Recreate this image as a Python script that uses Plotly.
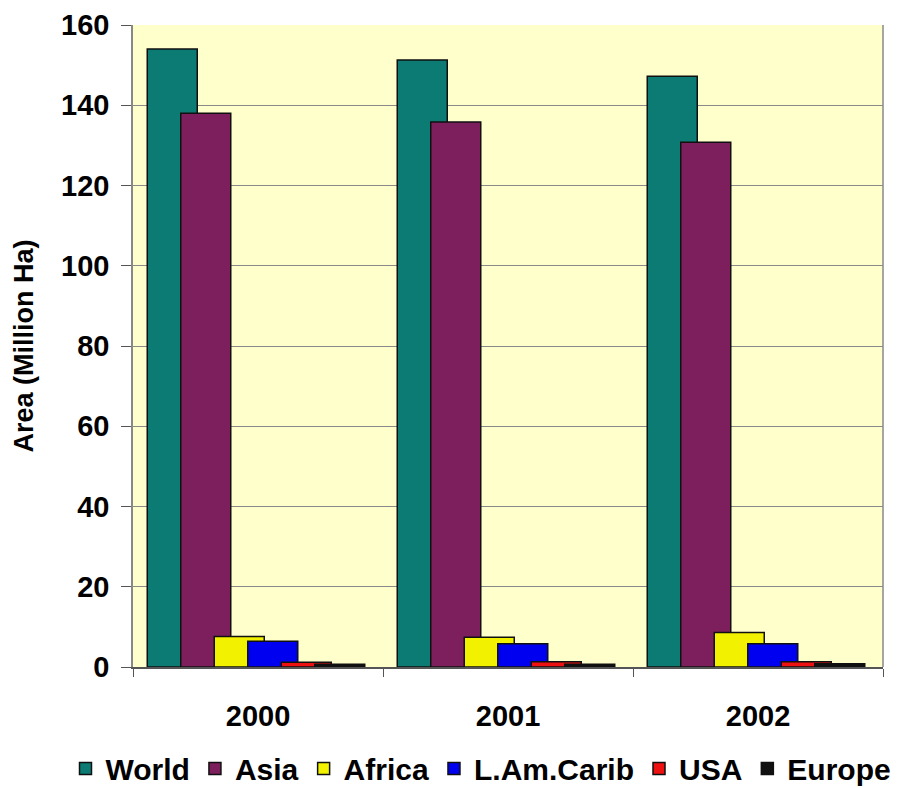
import plotly.graph_objects as go

years = ["2000", "2001", "2002"]
series_names = ["World", "Asia", "Africa", "L.Am.Carib", "USA", "Europe"]
world = [154.0, 151.3, 147.2]
asia = [138.0, 135.8, 130.8]
africa = [7.6, 7.4, 8.6]
lam_carib = [6.4, 5.8, 5.8]
usa = [1.2, 1.3, 1.3]
europe = [0.7, 0.7, 0.8]
y_ticks = [0, 20, 40, 60, 80, 100, 120, 140, 160]

values = [world, asia, africa, lam_carib, usa, europe]
colors = ["#0b7b73", "#7d1f5c", "#f2f200", "#0000f0", "#ee1111", "#111111"]

bar_width = 0.2
bar_step = 0.134
first_offset = -0.443

fig = go.Figure()
for i, (name, vals, col) in enumerate(zip(series_names, values, colors)):
    fig.add_trace(go.Bar(
        x=years, y=vals, name=name,
        width=bar_width, offset=first_offset + i * bar_step,
        marker=dict(color=col, line=dict(color="#101010", width=1.5)),
    ))

font_family = "Liberation Sans, Arial, sans-serif"
fig.update_layout(
    width=902, height=780,
    barmode="overlay",
    paper_bgcolor="white", plot_bgcolor="#ffffcc",
    margin=dict(l=125, r=27, t=17, b=121, autoexpand=False),
    font=dict(family=font_family, size=28, color="black"),
    showlegend=True,
    legend=dict(orientation="h", x=-0.09, xanchor="left", y=-0.158, yanchor="middle",
                font=dict(size=30, family=font_family, weight="bold"),
                itemwidth=30, tracegroupgap=0, traceorder="normal"),
    xaxis=dict(
        automargin=False,
        showline=True, linecolor="#555555", linewidth=1.5,
        ticks="outside", tickson="boundaries", ticklen=8, tickcolor="#555555",
        tickfont=dict(size=29, weight="bold"), ticklabelstandoff=22,
        mirror=False, showgrid=False,
    ),
    yaxis=dict(
        automargin=False,
        range=[0, 160], tickvals=y_ticks,
        showline=True, linecolor="#888888", linewidth=1.5,
        ticks="outside", ticklen=10, tickcolor="#555555",
        gridcolor="#8a8a8a", gridwidth=1,
        tickfont=dict(size=29, weight="bold"), ticklabelstandoff=6,
        title=dict(text="Area (Million Ha)", font=dict(size=27, weight="bold"), standoff=20),
        zeroline=False,
    ),
)
fig.add_shape(type="line", xref="paper", yref="paper", x0=1, x1=1, y0=0, y1=1,
              line=dict(color="#888888", width=1.5))

fig.write_html("out.html")
